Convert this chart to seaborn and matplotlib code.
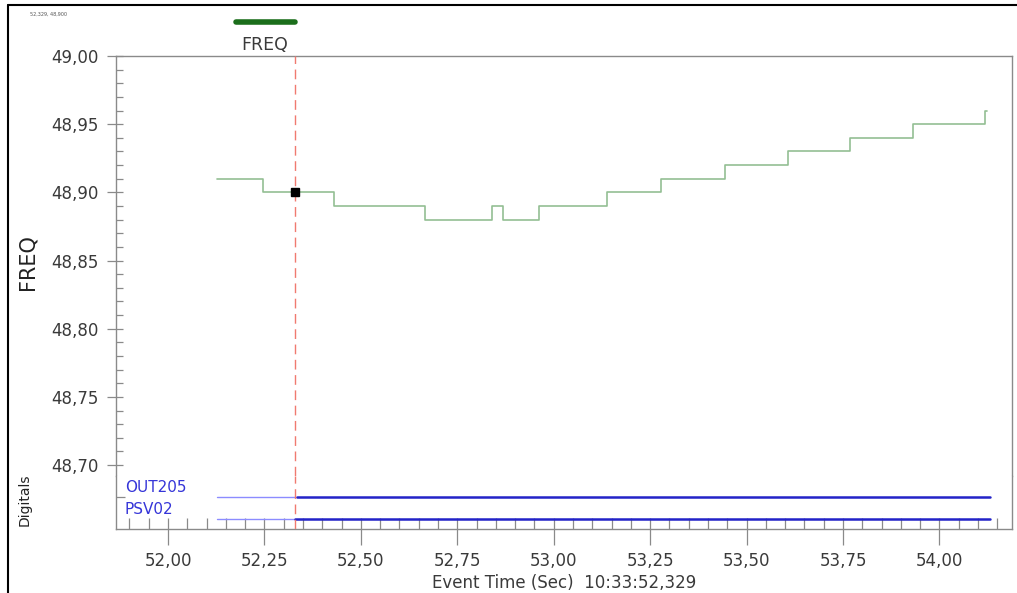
import matplotlib
matplotlib.use("Agg")
import matplotlib.pyplot as plt
import matplotlib.ticker as mticker
from matplotlib.lines import Line2D
import seaborn as sns
import pandas as pd

# ---- data ----
freq_time = [52.127, 52.246, 52.430, 52.666, 52.840, 52.869, 52.962, 53.138,
             53.278, 53.444, 53.607, 53.768, 53.932, 54.118, 54.123]
freq_value = [48.91, 48.90, 48.89, 48.88, 48.89, 48.88, 48.89, 48.90,
              48.91, 48.92, 48.93, 48.94, 48.95, 48.96, 48.96]
cursor_time = 52.329
cursor_value = 48.90
digital_names = ["OUT205", "PSV02"]
digital_level = [1, 0]
digital_start = [52.127, 52.127]
digital_on = [52.335, 52.329]
digital_end = [54.131, 54.131]
x_ticks = [52.00, 52.25, 52.50, 52.75, 53.00, 53.25, 53.50, 53.75, 54.00]
y_ticks = [48.70, 48.75, 48.80, 48.85, 48.90, 48.95, 49.00]

sns.set_style("white")
plt.rcParams["font.family"] = ["DejaVu Sans"]

W, H = 1017, 593
fig = plt.figure(figsize=(W / 100, H / 100), dpi=100)

def fx(px):
    return px / W

def fy(py):
    return 1 - py / H

left, right = 116, 1012
top, split, bottom = 56, 476, 529
ax = fig.add_axes([fx(left), fy(split), fx(right - left), (split - top) / H])
axd = fig.add_axes([fx(left), fy(bottom), fx(right - left), (bottom - split) / H], sharex=ax)

grey = "#8a8a8a"
txt = "#3a3a3a"

df = pd.DataFrame({"t": freq_time, "f": freq_value})
sns.lineplot(data=df, x="t", y="f", ax=ax, drawstyle="steps-post",
             color="#93bf93", linewidth=1.2, estimator=None, sort=False)
ax.plot([cursor_time], [cursor_value], marker="s", color="black",
        markersize=6, linestyle="none", zorder=5)

ax.set_xlim(51.865, 54.188)
ax.set_ylim(48.692, 49.0)

fmt = mticker.FuncFormatter(lambda v, p: f"{v:.2f}".replace(".", ","))

# main axes styling
for s in ["top", "left", "right"]:
    ax.spines[s].set_color(grey)
    ax.spines[s].set_linewidth(1.0)
ax.spines["bottom"].set_visible(False)
ax.set_yticks(y_ticks)
ax.yaxis.set_major_formatter(fmt)
ax.yaxis.set_minor_locator(mticker.MultipleLocator(0.01))
ax.yaxis.remove_overlapping_locs = False
ax.tick_params(axis="y", which="major", direction="out", length=6.5, width=0.9,
               color=grey, labelsize=12, labelcolor=txt, pad=6, left=True)
ax.tick_params(axis="y", which="minor", direction="in", length=5, width=0.9,
               color=grey, left=True)
ax.tick_params(axis="x", which="both", bottom=False, labelbottom=False)
ax.set_xlabel("")
ax.set_ylabel("")

# digitals axes
for i, name in enumerate(digital_names):
    lv = digital_level[i]
    axd.plot([digital_start[i], digital_on[i]], [lv, lv], color="#8c8cff", linewidth=1.0)
    axd.plot([digital_on[i], digital_end[i]], [lv, lv], color="#2323c8", linewidth=1.8)
    axd.text(0.01, lv + 0.08, name, transform=axd.get_yaxis_transform(),
             color="#3535d8", fontsize=11, ha="left", va="bottom")
axd.set_ylim(-0.455, 1.95)
for s in ["bottom", "left", "right"]:
    axd.spines[s].set_color(grey)
    axd.spines[s].set_linewidth(1.0)
axd.spines["top"].set_visible(False)
axd.set_yticks([1])
axd.set_yticklabels([])
axd.tick_params(axis="y", which="major", direction="in", length=6.5, width=0.9,
                color=grey, left=True)
axd.set_xticks(x_ticks)
axd.xaxis.set_major_formatter(fmt)
axd.xaxis.set_minor_locator(mticker.MultipleLocator(0.05))
axd.xaxis.remove_overlapping_locs = False
axd.tick_params(axis="x", which="major", direction="out", length=11.5, width=0.9,
                color=grey, labelsize=12, labelcolor=txt, pad=5, bottom=True)
axd.tick_params(axis="x", which="minor", direction="in", length=8, width=0.9,
                color=grey, bottom=True)
axd.set_xlabel("Event Time (Sec)  10:33:52,329", fontsize=12, color=txt, labelpad=3)

# cursor line
for a in (ax, axd):
    a.axvline(cursor_time, color="#f07a70", linestyle=(0, (7, 4)), linewidth=1.0, zorder=4)

# labels
fig.text(fx(27), fy(262), "FREQ", rotation=90, ha="center", va="center",
         fontsize=15, color="#222222")
fig.text(fx(25), fy(500), "Digitals", rotation=90, ha="center", va="center",
         fontsize=10, color="#222222")

# legend
fig.add_artist(Line2D([fx(236), fx(295)], [fy(22), fy(22)], color="#1b6e1b", linewidth=4))
fig.text(fx(265), fy(45), "FREQ", ha="center", va="center", fontsize=12.5, color=txt)
fig.text(fx(30), fy(14), "52,329, 48,900", ha="left", va="center", fontsize=3.5, color="#555555")

# outer frame
fig.add_artist(Line2D([fx(8), fx(8)], [fy(5), 0], color="black", linewidth=1.5))
fig.add_artist(Line2D([fx(8), 1], [fy(5), fy(5)], color="black", linewidth=1.5))

fig.savefig("out.png", dpi=100)
